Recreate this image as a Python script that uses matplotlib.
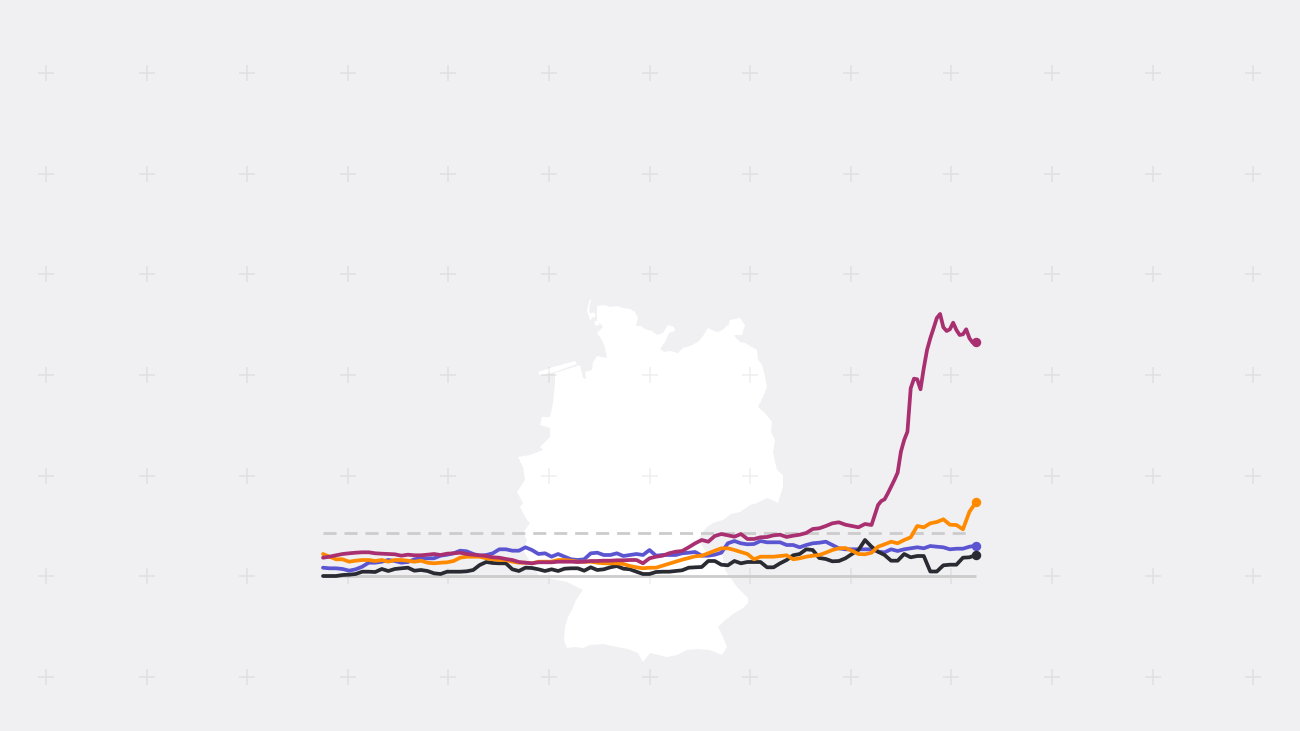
import numpy as np
import matplotlib
matplotlib.use('Agg')
import matplotlib.pyplot as plt
from matplotlib.patches import Polygon, Circle

BG = '#f0f0f2'
PLUS_X = [46, 146.6, 247.2, 347.8, 448.4, 549, 649.6, 750.2, 850.8, 951.4, 1052, 1152.6, 1253.2]
PLUS_Y = [73, 173.6, 274.2, 374.8, 475.5, 576.2, 677]

weeks = list(range(101))
blue = [8.3, 7.7, 7.7, 7, 5.3, 6.7, 9.3, 13.3, 13.3, 14.3,
        16, 15, 13.3, 14, 16.7, 17.7, 17.7, 17.7, 20.3, 21.3,
        22.7, 25.3, 24.7, 22, 20.3, 21, 22.7, 26.7, 26.7, 25.3,
        25.3, 28.7, 26, 22, 22.7, 19.3, 22, 19.3, 16.7, 16,
        16.7, 22.7, 23.3, 21, 21, 22.7, 20, 21, 22, 21,
        26, 20.3, 21, 21, 21, 22.7, 23.3, 24, 20.3, 20.3,
        21.3, 23.3, 32.7, 35, 32.7, 31.7, 32, 35, 33.7, 33.7,
        33.7, 31, 31, 28.7, 31, 32.7, 33.3, 34.3, 31, 27.7,
        26.7, 26.7, 26.7, 26.7, 26.7, 24.3, 23.7, 26.7, 25, 26.7,
        27.7, 28.7, 27.7, 30, 29.3, 28.7, 26.7, 27.3, 27.3, 29.3,
        30.3]
black = [0, 0, 0, 1, 1.3, 2, 4.3, 4.3, 4, 7,
         5, 7, 7.7, 8.3, 5.3, 6, 5, 2.7, 2, 4.3,
         4.3, 4.3, 4.7, 6, 11, 14, 13, 12.7, 12.7, 6.7,
         5, 8.3, 8, 6.7, 5, 6.7, 5, 7.3, 7.7, 7.7,
         5.3, 8.7, 6, 6.7, 8.7, 10, 7.3, 6.7, 4.3, 2,
         2, 4, 4.3, 4.3, 5, 5.7, 8.3, 8.7, 9, 15,
         15, 11.3, 10.7, 15, 12.7, 14, 14, 14, 8.7, 8.7,
         12.7, 16, 20.7, 22, 26.7, 26, 18, 17, 14.7, 15,
         17.7, 22, 26, 36, 29.3, 24.3, 21, 15.3, 15.3, 22,
         18.7, 20, 20, 4.5, 4.5, 10.7, 11.3, 11.3, 18.3, 18.7,
         21]
orange = [22, 19.3, 16.7, 16.7, 14.3, 15.3, 16, 16, 15, 16,
          14.3, 16, 16, 15.3, 14.3, 15.3, 13.3, 12.7, 13.3, 13.7,
          15, 18.3, 19.3, 19.3, 19.3, 17.7, 16.7, 16, 16, 14.3,
          13.3, 13.3, 12.7, 14.3, 14.3, 14.3, 16, 16, 15.3, 14.3,
          14.3, 14.3, 13.3, 12.7, 12.7, 12.7, 12, 10, 8.7, 7.7,
          8.3, 8.3, 10.3, 12.3, 14.3, 16.3, 18, 19.7, 20.3, 22.7,
          25.3, 27.7, 27.7, 26, 24, 22, 16.7, 19.3, 19.3, 19.3,
          20, 20.7, 16.7, 17.7, 19.3, 20.3, 21, 23.3, 26, 27.7,
          28, 25.3, 22, 21.7, 23.3, 29.3, 31.7, 34.3, 32.7, 36,
          38.7, 50, 48.7, 52.7, 54, 56.7, 51.3, 51, 46.7, 64.3,
          73.7]
# the magenta line moves fast at the end so it gets half steps there
magenta_weeks = list(range(85)) + list(np.arange(84.5, 100.5, 0.5))
magenta = [18.3, 19.3, 20.7, 22, 22.7, 23.3, 23.7, 23.7, 22.7, 22.3,
           22, 21.7, 20.3, 21.3, 20.7, 20.7, 21.3, 22, 21, 22.3,
           22.7, 23.3, 22, 21.3, 20.7, 20, 18.7, 18.3, 17, 16,
           14, 13.3, 12.7, 13.7, 13.7, 13.7, 14.3, 14.3, 14.3, 14,
           14.3, 15, 15, 15.3, 15.3, 15.7, 15.7, 16, 16, 12.7,
           17.7, 19.3, 20.3, 22.7, 24.3, 25, 28.7, 32.7, 36, 34.3,
           40, 42, 40.7, 39.3, 42, 37, 37, 38.7, 39, 40.7,
           41.3, 39, 40.3, 41.3, 43, 47, 47.7, 50, 52.7, 53.7,
           51.3, 50, 48.7, 52, 51,
           61, 71, 75, 76.7, 82.7, 89.3, 96, 103.3, 124.3, 136,
           144.3, 187.7, 197.3, 196.7, 186.7, 207.7, 226, 237.7, 247.7, 258,
           262, 248.7, 245, 246.7, 253.3, 246, 241, 241.7, 246.7, 237.7,
           233.3, 234]

# outline of Germany in pixels of the picture
germany = [(597, 306), (604, 305), (610, 307), (617, 306), (623, 308), (630, 309), (635, 312),
           (638, 318), (636, 326), (641, 326), (645, 329), (652, 331), (657, 335), (663, 333),
           (666, 328), (668, 325), (674, 327), (675, 331), (669, 333), (665, 342), (660, 349),
           (664, 352), (670, 351), (678, 353), (683, 348), (690, 346), (698, 342), (703, 336),
           (708, 328), (714, 331), (718, 332), (724, 329), (727, 325), (732, 329), (735, 337),
           (740, 342), (745, 343), (750, 349), (757, 358), (762, 365), (765, 376), (767, 387),
           (763, 397), (758, 407), (765, 413), (772, 422), (771, 432), (775, 440), (773, 453),
           (777, 470), (783, 475), (783, 487), (778, 503), (772, 500), (767, 498), (757, 503),
           (750, 505), (740, 512), (731, 514), (723, 520), (713, 523), (707, 527), (702, 533),
           (698, 540), (707, 553), (722, 553), (725, 570), (737, 587), (748, 598), (748, 603),
           (743, 608), (733, 614), (723, 622), (718, 627), (723, 637), (727, 647), (722, 655),
           (710, 650), (698, 649), (687, 650), (677, 655), (667, 657), (650, 653), (643, 662),
           (638, 653), (628, 649), (617, 647), (603, 644), (590, 645), (583, 648), (575, 647),
           (567, 648), (564, 640), (565, 627), (568, 617), (572, 610), (576, 600), (583, 590),
           (567, 582), (547, 578), (540, 577), (532, 565), (523, 550), (527, 540), (523, 533),
           (530, 523), (527, 520), (520, 507), (523, 503), (517, 492), (525, 480), (523, 467),
           (518, 457), (530, 455), (543, 450), (540, 447), (550, 437), (550, 428), (540, 425),
           (542, 417), (550, 417), (553, 403), (555, 383), (555, 373), (580, 365), (583, 378),
           (586, 379), (585, 372), (592, 370), (593, 362), (597, 356), (607, 358), (605, 348),
           (602, 340), (597, 333), (603, 327), (597, 320)]
islands = [[(538, 372), (553, 367), (575, 361), (577, 364), (555, 372), (540, 375)],
           [(590, 299), (587, 310), (590, 320), (592, 319), (589, 310), (591, 300)],
           [(730, 320), (740, 318), (745, 325), (742, 335), (733, 335), (728, 327)],
           [(745, 343), (757, 350), (758, 360), (750, 354)]]
blobs = [(593, 315, 2.5), (597, 323, 2.5)]

fig = plt.figure(figsize=(13, 7.31), dpi=100, facecolor=BG)

# background layer in picture pixels
bg = fig.add_axes([0, 0, 1, 1])
bg.set_xlim(0, 1300)
bg.set_ylim(731, 0)
bg.axis('off')
bg.add_patch(Polygon(germany, closed=True, fc='white', ec='none'))
for isl in islands:
    bg.add_patch(Polygon(isl, closed=True, fc='white', ec='none'))
for bx, by, br in blobs:
    bg.add_patch(Circle((bx, by), br, fc='white', ec='none'))
xx, yy = np.meshgrid(PLUS_X, PLUS_Y)
bg.plot(xx.ravel(), yy.ravel(), ls='none', marker='+', ms=11, mew=1.1, color='black', alpha=0.065)

ax = fig.add_axes([323 / 1300, (731 - 576) / 731, 653 / 1300, 300 / 731])
ax.set_xlim(0, 100)
ax.set_ylim(0, 300)
ax.axis('off')
ax.patch.set_alpha(0)

ax.plot([0, 100], [0, 0], color='#cccccc', lw=2, clip_on=False, solid_capstyle='butt')
ax.plot([0, 99.2], [43, 43], color='#cccccc', lw=2, ls=(0, (4.7, 2.85)), clip_on=False)

series = [(weeks, blue, '#5b55d2'), (weeks, black, '#2a2a32'),
          (weeks, orange, '#ff8a00'), (magenta_weeks, magenta, '#a92f70')]
for x, y, col in series:
    ax.plot(x, y, color=col, lw=2.7, clip_on=False, solid_joinstyle='round', solid_capstyle='round')
    ax.plot(x[-1], y[-1], 'o', color=col, ms=6.8, mew=0, clip_on=False)

fig.savefig('out.png', dpi=100, facecolor=BG)
